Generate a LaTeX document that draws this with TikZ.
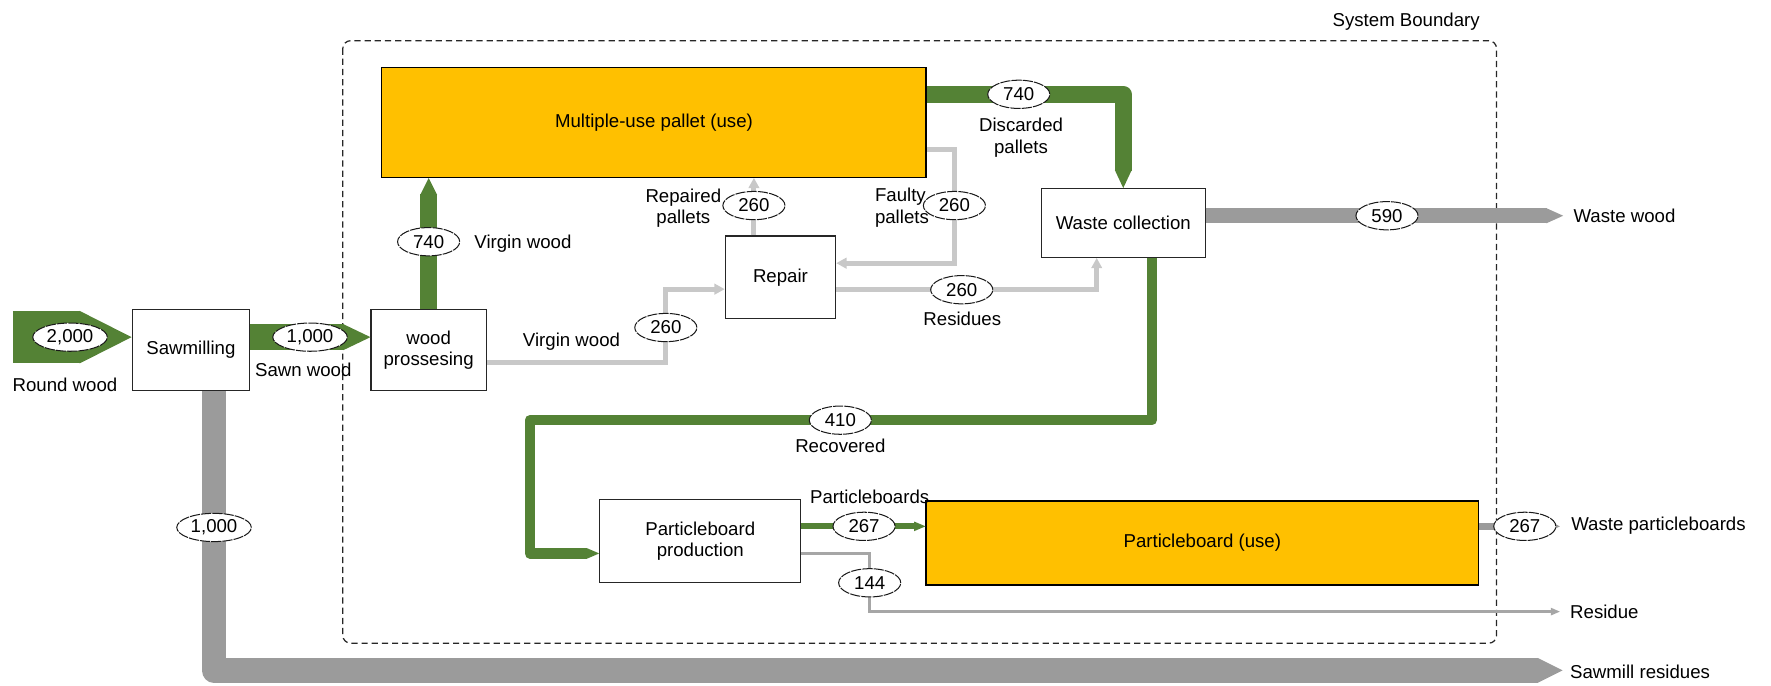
\documentclass[tikz,border=0pt]{standalone}
\usepackage{fontspec}
\setmainfont{Liberation Sans}
\usetikzlibrary{calc,shapes.geometric}

\definecolor{flowgreen}{HTML}{548235}
\definecolor{flowgray}{HTML}{9B9B9B}
\definecolor{lightflow}{HTML}{C8C8C8}
\definecolor{thinflow}{HTML}{A6A6A6}
\definecolor{useorange}{HTML}{FFC000}

\newcommand\lblfont{\fontsize{16.5}{19}\selectfont}
% flow arrow head: colour, tip point, direction angle, base width, length
\newcommand\flowhead[5]{\fill[#1,shift={(#2)},rotate=#3] (0,0) -- (-#5,#4/2) -- (-#5,-#4/2) -- cycle;}

\tikzset{
  proc/.style={draw=black!85, line width=1, fill=white, inner sep=0pt, align=center, font=\lblfont},
  usebox/.style={draw=black, line width=1.2, fill=useorange, inner sep=0pt, align=center, font=\lblfont},
  qty/.style={ellipse, draw=black!90, line width=0.9, dash pattern=on 9pt off 1pt, fill=white,
    inner sep=0pt, minimum width=55, minimum height=25, font=\lblfont},
  qtywide/.style={qty, minimum width=66},
  lbl/.style={inner sep=0pt, align=center, font=\lblfont},
  greenpipe/.style={draw=flowgreen, line join=round},
  graypipe/.style={draw=flowgray, line join=round},
  lightpipe/.style={draw=lightflow, line width=4.5},
  thinpipe/.style={draw=thinflow, line width=2.2},
  boundary/.style={draw=black!85, line width=1.1, dash pattern=on 5.5pt off 3.5pt, rounded corners=7}
}

\begin{document}
\begin{tikzpicture}[x=1pt, y=-1pt]
\useasboundingbox (0,0) rectangle (1568,607);

% system boundary
\draw[boundary] (303.5,36) rectangle (1325,569.5);
\node[lbl] (sysb) at (1245,19) {System Boundary};

% processes
\node[proc, minimum width=104, minimum height=72] (sawmill) at (169,310) {Sawmilling};
\node[proc, minimum width=102, minimum height=72] (woodproc) at (379.5,310) {wood\\prossesing};
\node[usebox, minimum width=482, minimum height=97] (palletuse) at (579,108.5) {Multiple-use pallet (use)};
\node[proc, minimum width=145, minimum height=61] (wastecoll) at (994.5,197.5) {Waste collection};
\node[proc, minimum width=98, minimum height=73] (repair) at (691,245.5) {Repair};
\node[proc, minimum width=178, minimum height=74] (pbprod) at (620,479) {Particleboard\\production};
\node[usebox, minimum width=489, minimum height=74.5] (pbuse) at (1064.5,480.75) {Particleboard (use)};

% routing points
\coordinate (rwsrc) at (11.5,298.5);
\coordinate (dptop) at (995,83.5);
\coordinate (wwend) at (1384,191);
\coordinate (srbend) at (189.5,593.5);
\coordinate (srend) at (1383.5,593.5);
\coordinate (rcright) at (1020,372);
\coordinate (rcleft) at (469,372);
\coordinate (rcdown) at (469,490);
\coordinate (pbline) at (0,466);
\coordinate (rsbend) at (770,490);
\coordinate (rsend) at (1381,541.5);
\coordinate (wpend) at (1381,466);
\coordinate (rpx) at (667.5,0);
\coordinate (ftop) at (845,132);
\coordinate (fbot) at (845,233);
\coordinate (rsdy) at (971,256);
\coordinate (vwlow) at (589.5,321);
\coordinate (vwhigh) at (589.5,256);

% round wood into sawmilling
\draw[greenpipe, line width=46.5] (rwsrc) -- ($(sawmill.west |- rwsrc)+(-45.5,0)$);
\flowhead{flowgreen}{sawmill.west |- rwsrc}{0}{46.5}{46}

% sawn wood
\draw[greenpipe, line width=23] (sawmill.east |- rwsrc) -- ($(woodproc.west |- rwsrc)+(-23.5,0)$);
\flowhead{flowgreen}{woodproc.west |- rwsrc}{0}{23}{24}

% virgin wood to pallets
\draw[greenpipe, line width=15] (woodproc.north) -- ($(woodproc.north |- palletuse.south)+(0,14.5)$);
\flowhead{flowgreen}{woodproc.north |- palletuse.south}{90}{15}{15}

% discarded pallets
\draw[greenpipe, line width=15] (palletuse.east |- dptop) -| ($(wastecoll.north)+(0,-15.5)$);
\flowhead{flowgreen}{wastecoll.north}{-90}{15}{16}

% waste wood
\draw[graypipe, line width=13.5] (wastecoll.east |- wwend) -- ($(wwend)+(-14.5,0)$);
\flowhead{flowgray}{wwend}{0}{13.5}{15}

% sawmill residues
\draw[graypipe, line width=22] (sawmill.south -| srbend) -- (srbend) -- ($(srend)+(-21.5,0)$);
\flowhead{flowgray}{srend}{0}{22}{22}

% recovered wood
\draw[greenpipe, line width=9] (wastecoll.south -| rcright) -- (rcright) -- (rcleft) -- (rcdown) -- ($(pbprod.west |- rcdown)+(-10.5,0)$);
\flowhead{flowgreen}{pbprod.west |- rcdown}{0}{9.5}{11}

% particleboards
\draw[greenpipe, line width=5.5] (pbprod.east |- pbline) -- ($(pbuse.west |- pbline)+(-9.5,0)$);
\flowhead{flowgreen}{pbuse.west |- pbline}{0}{8.5}{10}

% particleboard residue
\draw[thinpipe] (pbprod.east |- rsbend) -- (rsbend) |- ($(rsend)+(-7.5,0)$);
\flowhead{thinflow}{rsend}{0}{7}{8}

% waste particleboards
\draw[graypipe, line width=6] (pbuse.east |- wpend) -- ($(wpend)+(-7.5,0)$);
\flowhead{flowgray}{wpend}{0}{8.5}{8}

% repaired pallets
\draw[lightpipe] (repair.north -| rpx) -- ($(palletuse.south -| rpx)+(0,8.5)$);
\flowhead{lightflow}{palletuse.south -| rpx}{90}{10}{9}

% faulty pallets
\draw[lightpipe] (palletuse.east |- ftop) -- (ftop) -- (fbot) -- ($(repair.east |- fbot)+(8.5,0)$);
\flowhead{lightflow}{repair.east |- fbot}{180}{10}{9}

% repair residues
\draw[lightpipe] (repair.east |- rsdy) -| ($(wastecoll.south -| rsdy)+(0,8.5)$);
\flowhead{lightflow}{wastecoll.south -| rsdy}{90}{10}{9}

% virgin wood to repair
\draw[lightpipe] (woodproc.east |- vwlow) -- (vwlow) -- (vwhigh) -- ($(repair.west |- vwhigh)+(-8.5,0)$);
\flowhead{lightflow}{repair.west |- vwhigh}{0}{10}{9}

% quantities
\node[qtywide] (q2000) at (62,298.5) {2,000};
\node[qtywide] (q1000a) at (274.5,298.5) {1,000};
\node[qty] (q740a) at (379.5,214) {740};
\node[qty] (q740b) at (902,83.5) {740};
\node[qty] (q590) at (1228,191) {590};
\node[qty] (q260a) at (667.5,182) {260};
\node[qty] (q260b) at (845,182) {260};
\node[qty] (q260c) at (851.5,256.5) {260};
\node[qty] (q260d) at (589.5,290) {260};
\node[qty] (q410) at (744,372) {410};
\node[qty] (q267a) at (765,466) {267};
\node[qty] (q144) at (770,516) {144};
\node[qty] (q267b) at (1350,466) {267};
\node[qtywide] (q1000b) at (189.5,467) {1,000};

% flow names
\node[lbl] (trw) at (57.5,341) {Round wood};
\node[lbl] (tsw) at (268.5,327.5) {Sawn wood};
\node[lbl] (tvw1) at (463,216) {Virgin wood};
\node[lbl] (tvw2) at (506,302.5) {Virgin wood};
\node[lbl] (trp) at (605,184.5) {Repaired\\pallets};
\node[lbl, align=left, anchor=west] (tfp) at (774.5,184) {Faulty\\pallets};
\node[lbl] (tdp) at (904,122) {Discarded\\pallets};
\node[lbl] (tres) at (852,282) {Residues};
\node[lbl] (trec) at (744,395) {Recovered};
\node[lbl] (tpb) at (770,440) {Particleboards};
\node[lbl, anchor=west] (tww) at (1393,191) {Waste wood};
\node[lbl, anchor=west] (twp) at (1391,465) {Waste particleboards};
\node[lbl, anchor=west] (trs) at (1390,542) {Residue};
\node[lbl, anchor=west] (tsr) at (1390,595) {Sawmill residues};
\end{tikzpicture}
\end{document}
